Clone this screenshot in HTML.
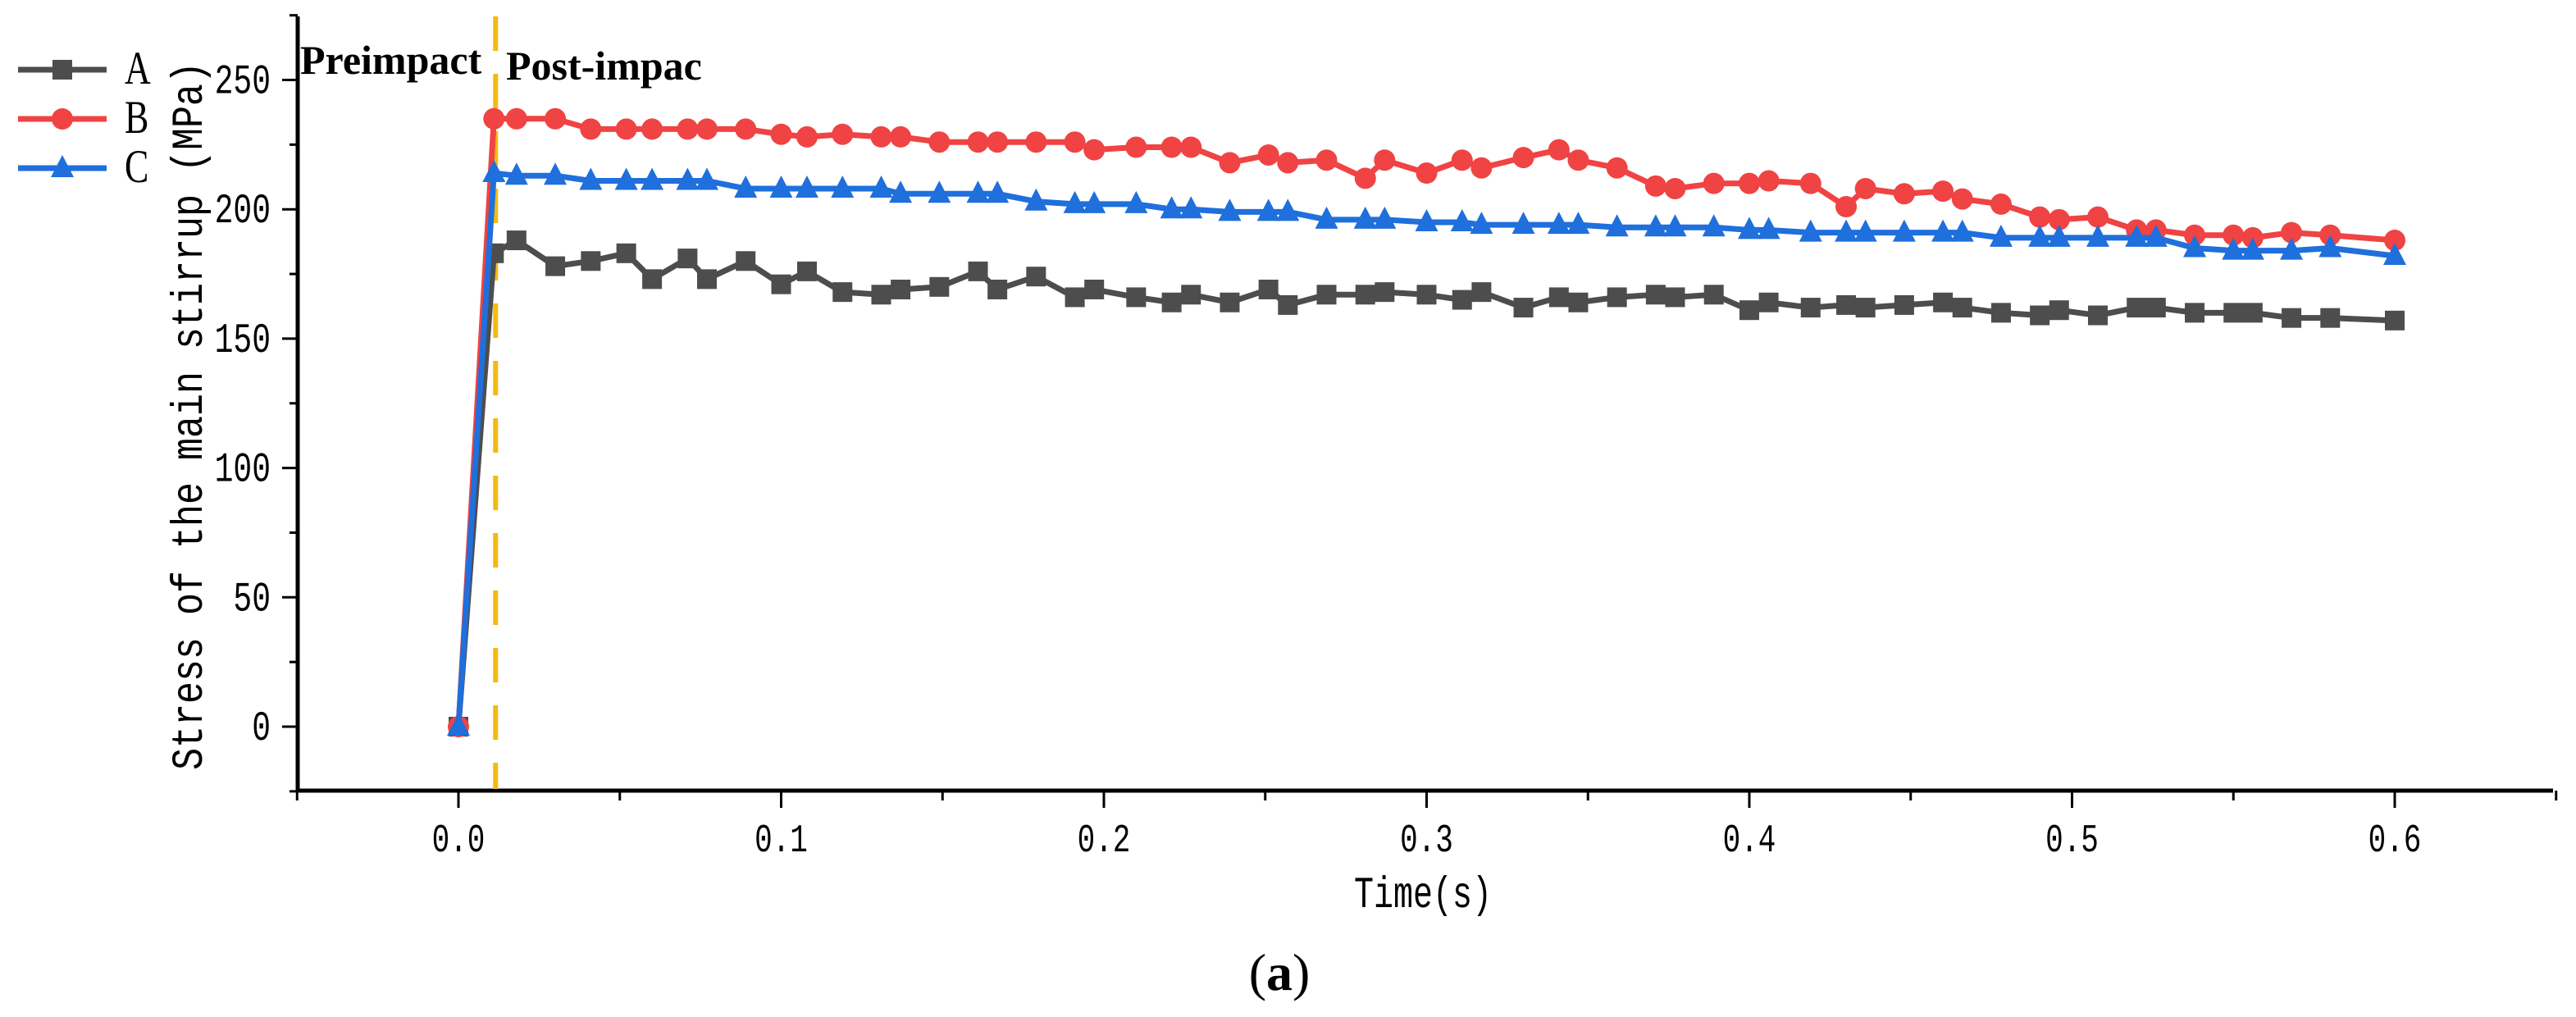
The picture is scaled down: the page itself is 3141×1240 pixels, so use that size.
<!DOCTYPE html>
<html><head><meta charset="utf-8"><style>
html,body{margin:0;padding:0;background:#fff;}
svg{display:block;}
</style></head><body>
<svg id="chart" width="3141" height="1240" viewBox="0 0 3141 1240" xmlns="http://www.w3.org/2000/svg">
<g id="axes"></g>
<g id="series"></g>
<g id="legend"></g>
</svg>
<script>
const times = [0,0.011,0.018,0.03,0.041,0.052,0.06,0.071,0.077,0.089,0.1,0.108,0.119,0.131,0.137,0.149,0.161,0.167,0.179,0.191,0.197,0.21,0.221,0.227,0.239,0.251,0.257,0.269,0.281,0.287,0.3,0.311,0.317,0.33,0.341,0.347,0.359,0.371,0.377,0.389,0.4,0.406,0.419,0.43,0.436,0.448,0.46,0.466,0.478,0.49,0.496,0.508,0.52,0.526,0.538,0.55,0.556,0.568,0.58,0.6];
const seriesA = [0,183,188,178,180,183,173,181,173,180,171,176,168,167,169,170,176,169,174,166,169,166,164,167,164,169,163,167,167,168,167,165,168,162,166,164,166,167,166,167,161,164,162,163,162,163,164,162,160,159,161,159,162,162,160,160,160,158,158,157];
const seriesB = [0,235,235,235,231,231,231,231,231,231,229,228,229,228,228,226,226,226,226,226,223,224,224,224,218,221,218,219,212,219,214,219,216,220,223,219,216,209,208,210,210,211,210,201,208,206,207,204,202,197,196,197,192,192,190,190,189,191,190,188];
const seriesC = [0,214,213,213,211,211,211,211,211,208,208,208,208,208,206,206,206,206,203,202,202,202,200,200,199,199,199,196,196,196,195,195,194,194,194,194,193,193,193,193,192,192,191,191,191,191,191,191,189,189,189,189,189,189,185,184,184,184,185,182];
const xTicks = [0,0.1,0.2,0.3,0.4,0.5,0.6];
const xTickLabels = ["0.0","0.1","0.2","0.3","0.4","0.5","0.6"];
const yTicks = [0,50,100,150,200,250];
const impactTime = 0.0115;

const NS="http://www.w3.org/2000/svg";
const X = t => 559 + t*3935;
const Y = v => 886 - v*3.154;
function mk(tag, attrs, parent){const e=document.createElementNS(NS,tag);for(const k in attrs)e.setAttribute(k,attrs[k]);parent.appendChild(e);return e;}
const axes=document.getElementById('axes'), sg=document.getElementById('series'), lg=document.getElementById('legend');

let e=mk('line',{x1:363,y1:20,x2:363,y2:966,stroke:'#000','stroke-width':5},axes);


e=mk('line',{x1:361,y1:964,x2:3113,y2:964,stroke:'#000','stroke-width':5},axes);



for(let t=-0.05;t<=0.651;t+=0.05){
  const major=Math.abs(Math.round(t*10)-t*10)<1e-6;
  e=mk('line',{x1:X(t),y1:964,x2:X(t),y2:major?985:976,stroke:'#000','stroke-width':3},axes);
  
  
}
xTicks.forEach((t,i)=>{
  const tx=mk('text',{x:0,y:0,transform:`translate(${X(t)},1038) scale(1,1.35)`,'text-anchor':'middle','font-family':'Liberation Mono, monospace','font-size':36,fill:'#000'},axes);
  tx.textContent=xTickLabels[i];
  
  
});
for(let v=-25;v<=275;v+=25){
  const major=v%50===0;
  e=mk('line',{x1:major?344:353,y1:Y(v),x2:363,y2:Y(v),stroke:'#000','stroke-width':3},axes);
  
  
}
yTicks.forEach(v=>{
  const tx=mk('text',{x:0,y:0,transform:`translate(330,${Y(v)+16}) scale(1,1.35)`,'text-anchor':'end','font-family':'Liberation Mono, monospace','font-size':38,fill:'#000'},axes);
  tx.textContent=String(v);
  
  
});
let tt=mk('text',{x:0,y:0,transform:'translate(246,507) rotate(-90) scale(1,1.2)','text-anchor':'middle','font-family':'Liberation Mono, monospace','font-size':45,fill:'#000'},axes);
tt.textContent='Stress of the main stirrup (MPa)';


tt=mk('text',{x:0,y:0,transform:'translate(1735,1106) scale(1,1.35)','text-anchor':'middle','font-family':'Liberation Mono, monospace','font-size':40,fill:'#000'},axes);
tt.textContent='Time(s)';


tt=mk('text',{x:1560,y:1207,'text-anchor':'middle','font-family':'Liberation Serif, serif','font-size':64,fill:'#000'},axes);
tt.innerHTML='(<tspan font-weight="bold">a</tspan>)';



e=mk('line',{x1:X(impactTime),y1:20,x2:X(impactTime),y2:962,stroke:'#f5b90f','stroke-width':6,'stroke-dasharray':'42 28'},axes);


tt=mk('text',{x:366,y:90,'font-family':'Liberation Serif, serif','font-weight':'bold','font-size':50,fill:'#000'},axes);
tt.textContent='Preimpact';


tt=mk('text',{x:617,y:97,'font-family':'Liberation Serif, serif','font-weight':'bold','font-size':50,fill:'#000'},axes);
tt.textContent='Post-impac';



function marker(kind,cx,cy,color,parent){
  let m;
  if(kind==='square') m=mk('rect',{x:cx-12,y:cy-12,width:24,height:24,fill:color},parent);
  else if(kind==='circle') m=mk('circle',{cx:cx,cy:cy,r:13,fill:color},parent);
  else m=mk('polygon',{points:`${cx},${cy-16} ${cx-14},${cy+11} ${cx+14},${cy+11}`,fill:color},parent);
  return m;
}
const defs=[{name:'A',vals:seriesA,color:'#4d4d4d',kind:'square'},{name:'B',vals:seriesB,color:'#f04343',kind:'circle'},{name:'C',vals:seriesC,color:'#1f6fdc',kind:'triangle'}];
defs.forEach((s,si)=>{
  const g=mk('g',{},sg);
  
  
  const pts=s.vals.map((v,i)=>X(times[i])+','+Y(v)).join(' ');
  const pl=mk('polyline',{points:pts,fill:'none',stroke:s.color,'stroke-width':7,'stroke-linejoin':'round'},g);
  
  
  s.vals.forEach((v,i)=>{
    const m=marker(s.kind,X(times[i]),Y(v),s.color,g);
    
    
  });
  const ly=85+si*60;
  const le=mk('g',{},lg);
  
  
  mk('line',{x1:22,y1:ly,x2:130,y2:ly,stroke:s.color,'stroke-width':7},le);
  marker(s.kind,76,ly,s.color,le);
  const lt=mk('text',{x:0,y:0,transform:`translate(152,${ly+17}) scale(1,1.3)`,'font-family':'Liberation Serif, serif','font-size':44,fill:'#000'},le);
  lt.textContent=s.name;
});
</script>
</body></html>
